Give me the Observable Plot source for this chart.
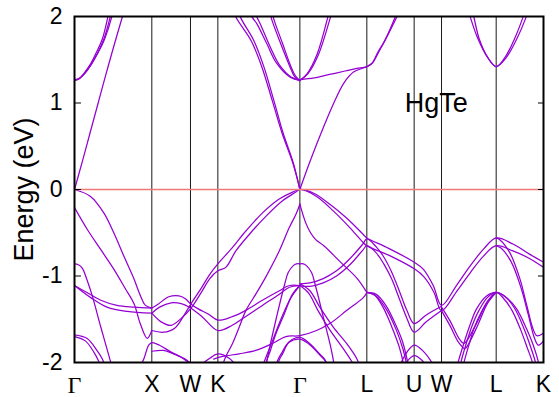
<!DOCTYPE html>
<html>
<head>
<meta charset="utf-8">
<script src="https://cdn.jsdelivr.net/npm/d3@7"></script>
<script src="https://cdn.jsdelivr.net/npm/@observablehq/plot@0.6"></script>
<style>
  html, body { margin: 0; padding: 0; background: white; }
  #chart { width: 559px; height: 397px; }
</style>
</head>
<body>
<div id="chart"></div>
<script>
// High-symmetry points along the fcc path (path length, 2π/a units)
const kTicks = [0, 1, 1.5, 1.854, 2.915, 3.781, 4.393, 4.747, 5.454, 6.066];
const kLabels = ["Γ", "X", "W", "K", "Γ", "L", "U", "W", "L", "K"];
const yTicks = [-2, -1, 0, 1, 2];
const annot = [{k: 4.68, E: 1.0, label: "HgTe"}];

// ---- conduction bands [k, E(eV)] ----
const cbLightGX = [[0,0],[0.1,0.32],[0.2,0.65],[0.3,0.98],[0.4,1.31],[0.5,1.63],[0.62,2.0],[0.7,2.25]];
const cbUpGX1 = [[0,1.26],[0.06,1.28],[0.12,1.34],[0.2,1.44],[0.28,1.58],[0.36,1.74],[0.43,1.99],[0.48,2.2]];
const cbUpGX2 = [[0,1.26],[0.06,1.28],[0.13,1.34],[0.21,1.44],[0.3,1.58],[0.38,1.74],[0.46,1.99],[0.51,2.2]];
const cbUpGX3 = [[0,1.27],[0.07,1.29],[0.14,1.35],[0.22,1.45],[0.31,1.59],[0.39,1.74],[0.48,1.99],[0.53,2.2]];
const cbLightKG1 = [[2.915,0],[2.829,0.31],[2.699,0.65],[2.578,1.03],[2.449,1.42],[2.32,1.72],[2.147,1.99],[2.06,2.2]];
const cbLightKG2 = [[2.915,0],[2.822,0.31],[2.685,0.65],[2.557,1.03],[2.422,1.42],[2.285,1.72],[2.083,2.0],[2.0,2.2]];
const cbLightGL = [[2.915,0],[3.053,0.34],[3.225,0.73],[3.354,1.0],[3.484,1.23],[3.613,1.36],[3.781,1.42],[3.85,1.46],[3.92,1.58],[4.0,1.7],[4.08,1.85],[4.15,2.0],[4.2,2.12]];
const cbFlatGL = [[2.915,1.27],[3.1,1.29],[3.3,1.33],[3.5,1.37],[3.65,1.4],[3.781,1.42],[3.86,1.47],[3.94,1.6],[4.02,1.73],[4.1,1.87],[4.17,2.0],[4.22,2.12]];
const cbGK1 = [[2.915,1.26],[2.786,1.3],[2.614,1.46],[2.485,1.69],[2.356,1.92],[2.3,1.99],[2.25,2.1]];
const cbGK2 = [[2.915,1.26],[2.8,1.3],[2.65,1.44],[2.53,1.65],[2.41,1.9],[2.36,1.99],[2.31,2.1]];
const cbGK3 = [[2.915,1.26],[2.85,1.3],[2.786,1.42],[2.665,1.69],[2.557,1.95],[2.52,2.06]];
const cbGK4 = [[2.915,1.26],[2.86,1.31],[2.8,1.42],[2.69,1.69],[2.585,1.95],[2.55,2.06]];
const cbGL1 = [[2.915,1.26],[3.01,1.34],[3.14,1.57],[3.27,1.97],[3.3,2.08]];
const cbGL2 = [[2.915,1.26],[3.02,1.34],[3.16,1.57],[3.31,1.99],[3.34,2.08]];
const cbL2a = [[5.08,2.1],[5.12,1.99],[5.21,1.76],[5.34,1.53],[5.454,1.42],[5.57,1.53],[5.7,1.76],[5.8,1.99],[5.84,2.1]];
const cbL2b = [[5.13,2.12],[5.166,1.99],[5.235,1.74],[5.35,1.52],[5.454,1.42],[5.58,1.52],[5.72,1.74],[5.84,1.99],[5.88,2.1]];

// ---- valence bands [k, E(eV)] ----
const vbGX1 = [[0,0],[0.207,-0.08],[0.379,-0.27],[0.508,-0.5],[0.638,-0.77],[0.767,-1.03],[0.854,-1.23],[0.918,-1.34],[1,-1.37]];
const vbGX2 = [[0,-0.21],[0.164,-0.46],[0.336,-0.69],[0.508,-0.92],[0.66,-1.15],[0.77,-1.32],[0.85,-1.55],[0.94,-1.72],[1,-1.63]];
const vbGX3 = [[0,-1.11],[0.16,-1.19],[0.34,-1.28],[0.55,-1.34],[0.77,-1.36],[1,-1.37]];
const vbGX4 = [[0,-1.11],[0.21,-1.25],[0.42,-1.36],[0.68,-1.41],[1,-1.43]];
const vbGX5 = [[0,-0.86],[0.05,-0.87],[0.1,-0.91],[0.16,-1.04],[0.23,-1.23],[0.34,-1.59],[0.46,-1.97],[0.5,-2.1]];
const vbGX6 = [[0,-1.68],[0.16,-1.72],[0.29,-1.86],[0.36,-1.96],[0.4,-2.05]];
const vbGX7 = [[0,-1.7],[0.14,-1.75],[0.25,-1.88],[0.31,-1.98],[0.34,-2.05]];
const vbXW1 = [[0.85,-2.05],[0.9,-1.95],[0.96,-1.8],[1,-1.77],[1.1,-1.8],[1.25,-1.88],[1.4,-1.95],[1.5,-2.02]];
const vbXW2 = [[1,-1.87],[1.15,-1.86],[1.28,-1.9],[1.45,-1.97],[1.52,-2.03]];
const vbXK1 = [[1,-1.37],[1.09,-1.32],[1.22,-1.24],[1.35,-1.23],[1.43,-1.26],[1.5,-1.32],[1.6,-1.38],[1.73,-1.44],[1.854,-1.51],[2.04,-1.47],[2.21,-1.4],[2.43,-1.28],[2.65,-1.17],[2.78,-1.11],[2.915,-1.11]];
const vbXK2 = [[1,-1.43],[1.1,-1.36],[1.25,-1.31],[1.38,-1.32],[1.5,-1.37],[1.65,-1.47],[1.854,-1.63],[2.04,-1.57],[2.21,-1.47],[2.43,-1.34],[2.65,-1.21],[2.78,-1.13],[2.915,-1.11]];
const vbHH1 = [[1,-1.43],[1.12,-1.53],[1.25,-1.57],[1.38,-1.49],[1.5,-1.38],[1.64,-1.19],[1.75,-1.03],[1.854,-0.94],[1.957,-0.9],[2.087,-0.71],[2.26,-0.52],[2.475,-0.31],[2.691,-0.13],[2.863,-0.03],[2.915,0],
  [3.13,-0.08],[3.35,-0.25],[3.56,-0.44],[3.73,-0.61],[3.781,-0.65],[4.09,-0.77],[4.4,-0.92],[4.52,-1.01],[4.65,-1.19],[4.747,-1.4],
  [4.95,-1.17],[5.12,-0.96],[5.29,-0.77],[5.454,-0.65],[5.67,-0.71],[5.89,-0.8],[6.066,-0.9]];
const vbHH2 = [[1,-1.63],[1.15,-1.65],[1.3,-1.6],[1.42,-1.45],[1.5,-1.33],[1.64,-1.14],[1.75,-0.98],[1.854,-0.86],[2.044,-0.67],[2.216,-0.48],[2.432,-0.27],[2.648,-0.11],[2.82,-0.03],[2.915,0],
  [3.088,-0.04],[3.303,-0.17],[3.519,-0.33],[3.735,-0.52],[3.781,-0.56],[4.04,-0.67],[4.393,-0.84],[4.51,-0.92],[4.64,-1.11],[4.747,-1.34],
  [4.94,-1.11],[5.12,-0.88],[5.29,-0.69],[5.454,-0.56],[5.67,-0.63],[5.89,-0.75],[6.066,-0.84]];
const vbG6K = [[2.915,-0.17],[2.863,-0.29],[2.778,-0.44],[2.648,-0.71],[2.475,-1.01],[2.345,-1.21],[2.216,-1.4],[2.131,-1.59],[2.044,-1.78],[1.957,-1.93],[1.92,-2.02]];
const vbG6L = [[2.915,-0.17],[2.988,-0.38],[3.053,-0.5],[3.12,-0.58],[3.225,-0.65],[3.441,-0.84],[3.657,-1.03],[3.781,-1.19]];
const vbRise1 = [[2.915,-1.09],[3.044,-1.08],[3.217,-1.03],[3.389,-0.94],[3.561,-0.8],[3.73,-0.63],[3.781,-0.57],[3.9,-0.66],[4.0,-0.78],[4.1,-0.95],[4.2,-1.17],[4.3,-1.4],[4.393,-1.55],[4.55,-1.45],[4.747,-1.35]];
const vbRise2 = [[2.915,-1.11],[3.044,-1.12],[3.217,-1.08],[3.389,-1.0],[3.561,-0.87],[3.73,-0.7],[3.781,-0.65],[3.9,-0.73],[4.0,-0.86],[4.1,-1.03],[4.2,-1.26],[4.3,-1.49],[4.393,-1.65],[4.55,-1.53],[4.747,-1.4]];
const vbWL1 = [[4.747,-1.36],[4.864,-1.53],[4.972,-1.72],[5.036,-1.78],[5.08,-1.74],[5.21,-1.53],[5.339,-1.3],[5.454,-1.19]];
const vbWL2 = [[4.747,-1.4],[4.86,-1.58],[4.97,-1.77],[5.05,-1.84],[5.1,-1.78],[5.22,-1.56],[5.34,-1.32],[5.454,-1.19]];
const vbLK1 = [[5.454,-0.56],[5.5,-0.58],[5.63,-0.73],[5.76,-1.03],[5.85,-1.34],[5.93,-1.61],[5.98,-1.69],[6.066,-1.66]];
const vbLK2 = [[5.454,-0.65],[5.52,-0.68],[5.65,-0.84],[5.78,-1.15],[5.87,-1.45],[5.95,-1.72],[6.0,-1.8],[6.066,-1.75]];
const vbL1dA = [[3.781,-1.19],[3.898,-1.21],[4.027,-1.34],[4.157,-1.57],[4.243,-1.76],[4.308,-1.99],[4.33,-2.1]];
const vbL1dB = [[3.781,-1.19],[3.9,-1.23],[4.03,-1.38],[4.16,-1.62],[4.25,-1.85],[4.29,-2.0],[4.3,-2.08]];
const vbL1dC = [[3.781,-1.19],[3.88,-1.22],[3.99,-1.36],[4.1,-1.58],[4.2,-1.82],[4.25,-2.0],[4.26,-2.08]];
const vbL2dA = [[4.94,-2.08],[4.964,-1.99],[5.028,-1.8],[5.114,-1.57],[5.2,-1.38],[5.33,-1.23],[5.454,-1.19],[5.589,-1.25],[5.718,-1.38],[5.847,-1.61],[5.934,-1.8],[5.999,-1.99],[6.02,-2.08]];
const vbL2dB = [[4.98,-2.08],[5.0,-1.99],[5.06,-1.8],[5.14,-1.58],[5.23,-1.4],[5.34,-1.25],[5.454,-1.19],[5.57,-1.24],[5.69,-1.37],[5.81,-1.6],[5.9,-1.82],[5.96,-1.99],[5.98,-2.08]];
const vbL2dC = [[5.02,-2.08],[5.04,-1.99],[5.1,-1.8],[5.17,-1.6],[5.26,-1.42],[5.36,-1.27],[5.454,-1.19],[5.55,-1.26],[5.66,-1.4],[5.77,-1.62],[5.86,-1.84],[5.92,-1.99],[5.94,-2.08]];
const vbG1R = [[2.915,-0.86],[2.96,-0.86],[3.0,-0.88],[3.066,-0.96],[3.11,-1.09],[3.217,-1.47],[3.303,-1.78],[3.347,-1.97],[3.36,-2.05]];
const vbG1Lf = [[2.915,-0.86],[2.87,-0.86],[2.83,-0.88],[2.764,-0.96],[2.72,-1.09],[2.62,-1.45],[2.54,-1.76],[2.49,-1.97],[2.47,-2.05]];
const vbH1R = [[2.915,-1.09],[3.044,-1.17],[3.173,-1.36],[3.347,-1.59],[3.519,-1.78],[3.648,-1.95],[3.68,-2.02]];
const vbH2R = [[2.915,-1.11],[3.03,-1.2],[3.15,-1.4],[3.3,-1.62],[3.46,-1.82],[3.58,-1.98],[3.61,-2.03]];
const vbH1L = [[2.915,-1.11],[2.82,-1.21],[2.713,-1.44],[2.604,-1.67],[2.519,-1.9],[2.497,-1.95],[2.47,-2.03]];
const vbH2L = [[2.915,-1.11],[2.8,-1.25],[2.67,-1.5],[2.56,-1.75],[2.45,-2.0],[2.43,-2.05]];
const vbG7L = [[1.8,-1.96],[1.915,-1.93],[2.131,-1.9],[2.345,-1.86],[2.561,-1.78],[2.733,-1.7],[2.915,-1.69],[3.131,-1.63],[3.303,-1.55],[3.519,-1.4],[3.735,-1.25],[3.781,-1.19]];
const vbDomeL1 = [[2.62,-2.05],[2.648,-1.97],[2.691,-1.9],[2.778,-1.76],[2.915,-1.71],[3.04,-1.78],[3.17,-1.9],[3.24,-1.97],[3.27,-2.05]];
const vbDomeL2 = [[2.6,-2.05],[2.63,-1.97],[2.68,-1.89],[2.77,-1.77],[2.915,-1.73],[3.05,-1.8],[3.18,-1.92],[3.25,-1.99],[3.28,-2.05]];
const vbU1 = [[4.2,-2.05],[4.3,-1.88],[4.393,-1.8],[4.5,-1.86],[4.6,-1.97],[4.65,-2.05]];
const vbU2 = [[4.25,-2.05],[4.393,-1.92],[4.5,-1.98],[4.55,-2.05]];
const vbK1 = [[1.6,-2.05],[1.75,-1.95],[1.854,-1.9],[2.0,-1.95],[2.1,-2.05]];

const bandList = [
  cbLightGX, cbUpGX1, cbUpGX2, cbUpGX3, cbLightKG1, cbLightKG2, cbLightGL, cbFlatGL,
  cbGK1, cbGK2, cbGK3, cbGK4, cbGL1, cbGL2, cbL2a, cbL2b,
  vbGX1, vbGX2, vbGX3, vbGX4, vbGX5, vbGX6, vbGX7, vbXW1, vbXW2, vbXK1, vbXK2,
  vbHH1, vbHH2, vbG6K, vbG6L, vbRise1, vbRise2, vbWL1, vbWL2, vbLK1, vbLK2,
  vbL1dA, vbL1dB, vbL1dC, vbL2dA, vbL2dB, vbL2dC, vbG1R, vbG1Lf, vbH1R, vbH2R, vbH1L, vbH2L,
  vbG7L, vbDomeL1, vbDomeL2, vbU1, vbU2, vbK1
];
const rows = bandList.flatMap((pts, b) => pts.map(([k, E]) => ({k, E, band: b})));

const labelOf = new Map(kTicks.map((k, i) => [k, kLabels[i]]));
const gammaTicks = kTicks.filter((k, i) => kLabels[i] === "Γ");
const otherTicks = kTicks.filter((k, i) => kLabels[i] !== "Γ");
const kMin = kTicks[0], kMax = kTicks[kTicks.length - 1];

const chart = Plot.plot({
  width: 559,
  height: 397,
  marginLeft: 74,
  marginRight: 16,
  marginTop: 16,
  marginBottom: 35,
  style: {fontFamily: "'Liberation Sans', Arial, sans-serif", background: "white", color: "black"},
  x: {domain: [kMin, kMax]},
  y: {domain: [-2, 2]},
  marks: [
    Plot.ruleX(kTicks.slice(1, -1), {stroke: "#1a1a1a", strokeWidth: 1}),
    Plot.line(rows, {x: "k", y: "E", z: "band", stroke: "#9400d3", strokeWidth: 1.25, curve: "catmull-rom", clip: true}),
    Plot.ruleY([0], {stroke: "#f07878", strokeWidth: 1.5}),
    Plot.ruleY(yTicks, {x1: kMin, x2: kMin + 0.09, stroke: "black", strokeWidth: 1}),
    Plot.ruleY(yTicks, {x1: kMax - 0.065, x2: kMax, stroke: "black", strokeWidth: 1}),
    Plot.text(annot, {x: "k", y: "E", text: "label", fontSize: 27, fill: "black"}),
    Plot.axisX({ticks: otherTicks, tickFormat: d => labelOf.get(d), tickSize: 0, tickPadding: 13, fontSize: 23, label: null}),
    Plot.axisX({ticks: gammaTicks, tickFormat: d => labelOf.get(d), tickSize: 0, tickPadding: 13, fontSize: 24, fontFamily: "'Liberation Serif', 'DejaVu Serif', serif", label: null}),
    Plot.axisY({ticks: yTicks, tickFormat: d => String(d), tickSize: 0, tickPadding: 12, fontSize: 23, label: null}),
    Plot.axisY({ticks: [], fontSize: 27, label: "Energy (eV)", labelAnchor: "center", labelArrow: "none", labelOffset: 61}),
    Plot.frame({stroke: "black", strokeWidth: 2})
  ]
});
document.getElementById("chart").appendChild(chart);
</script>
</body>
</html>
